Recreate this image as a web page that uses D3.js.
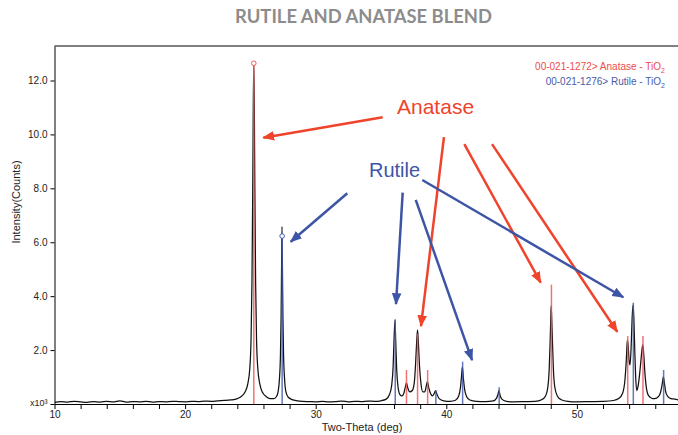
<!DOCTYPE html>
<html>
<head>
<meta charset="utf-8">
<script src="https://cdn.jsdelivr.net/npm/d3@7"></script>
<style>
body { margin: 0; background: #fff; }
</style>
</head>
<body>
<div id="chart"></div>
<script>
var pattern = [
  [10.0,0.06],[10.5,0.09],[11.0,0.07],[11.5,0.10],[12.0,0.08],[12.5,0.06],[13.0,0.09],[13.5,0.07],
  [14.0,0.10],[14.5,0.08],[15.0,0.12],[15.5,0.07],[16.0,0.09],[16.5,0.08],[17.0,0.10],[17.5,0.07],
  [18.0,0.09],[18.5,0.08],[19.0,0.10],[19.5,0.09],[20.0,0.08],[20.5,0.10],[21.0,0.09],[21.5,0.11],
  [22.0,0.10],[22.5,0.12],[23.0,0.13],[23.5,0.15],[24.0,0.20],[24.3,0.28],[24.6,0.45],[24.8,0.75],
  [24.95,1.3],[25.05,2.4],[25.12,4.5],[25.18,8.0],[25.22,11.0],[25.26,12.64],[25.30,11.0],[25.34,8.0],
  [25.40,4.5],[25.47,2.4],[25.57,1.3],[25.72,0.75],[25.9,0.45],[26.2,0.28],[26.5,0.20],[26.8,0.20],
  [27.0,0.28],[27.12,0.45],[27.22,0.9],[27.30,1.8],[27.35,3.2],[27.39,5.2],[27.42,6.58],[27.45,5.2],
  [27.49,3.2],[27.54,1.8],[27.62,0.9],[27.72,0.45],[27.9,0.25],[28.2,0.16],[28.6,0.12],[29.0,0.10],
  [29.5,0.09],[30.0,0.08],[30.5,0.10],[31.0,0.08],[31.5,0.09],[32.0,0.11],[32.5,0.08],[33.0,0.10],
  [33.5,0.09],[34.0,0.11],[34.5,0.10],[35.0,0.12],[35.4,0.18],[35.65,0.35],[35.82,0.7],[35.93,1.4],
  [36.00,2.4],[36.07,3.10],[36.13,2.3],[36.2,1.3],[36.3,0.65],[36.45,0.35],[36.6,0.30],[36.75,0.40],
  [36.85,0.60],[36.95,0.78],[37.05,0.60],[37.2,0.45],[37.4,0.50],[37.55,0.8],[37.65,1.5],[37.73,2.3],
  [37.80,2.75],[37.87,2.2],[37.95,1.4],[38.05,0.8],[38.2,0.45],[38.35,0.45],[38.46,0.65],[38.55,0.83],
  [38.65,0.62],[38.8,0.38],[38.95,0.30],[39.1,0.42],[39.18,0.50],[39.27,0.38],[39.45,0.20],[39.8,0.12],
  [40.3,0.10],[40.7,0.14],[40.95,0.30],[41.08,0.6],[41.16,1.0],[41.23,1.38],[41.30,1.0],[41.40,0.55],
  [41.55,0.28],[41.8,0.15],[42.3,0.10],[43.0,0.09],[43.6,0.12],[43.85,0.22],[43.97,0.38],[44.03,0.50],
  [44.10,0.36],[44.25,0.18],[44.6,0.10],[45.2,0.08],[46.0,0.09],[46.8,0.10],[47.3,0.16],[47.6,0.30],
  [47.78,0.65],[47.88,1.3],[47.95,2.3],[48.00,3.2],[48.03,3.64],[48.07,3.2],[48.13,2.3],[48.2,1.3],
  [48.3,0.65],[48.5,0.30],[48.8,0.16],[49.3,0.10],[50.0,0.08],[51.0,0.09],[52.0,0.10],[52.8,0.13],
  [53.2,0.20],[53.5,0.40],[53.68,0.9],[53.78,1.6],[53.84,2.2],[53.87,2.37],[53.92,2.2],[54.0,1.6],
  [54.07,1.45],[54.16,2.2],[54.23,3.2],[54.30,3.68],[54.36,3.2],[54.43,2.0],[54.50,1.0],[54.58,0.50],
  [54.68,0.65],[54.80,1.1],[54.90,1.6],[54.98,2.0],[55.04,2.19],[55.11,1.9],[55.2,1.2],[55.32,0.6],
  [55.5,0.30],[55.8,0.20],[56.1,0.22],[56.35,0.35],[56.5,0.65],[56.58,0.9],[56.62,1.01],[56.68,0.85],
  [56.78,0.50],[56.95,0.28],[57.2,0.20],[57.5,0.18],[57.8,0.15]
];

// reference stick patterns: [two-theta, intensity]
var anataseSticks = [[25.26,12.64],[36.95,1.26],[37.80,2.6],[38.57,1.26],[48.05,4.43],[53.89,2.52],[55.06,2.52]];
var rutileSticks  = [[27.43,6.23],[36.09,3.14],[39.20,0.50],[41.25,1.57],[44.05,0.62],[54.32,3.76],[56.64,1.26]];

// matched peak markers
var anataseMark = [[25.26,12.64]];
var rutileMark = [[27.43,6.23]];

// annotation arrows: [[from], [to]] in data units
var anataseArrows = [
  [[35.13,10.64],[25.99,9.88]],
  [[39.82,9.90],[38.06,2.89]],
  [[41.38,9.64],[47.23,4.50]],
  [[43.50,9.64],[53.09,2.68]]
];
var rutileArrows = [
  [[32.42,7.82],[28.09,6.02]],
  [[36.66,7.84],[36.15,3.71]],
  [[37.66,7.57],[41.97,1.63]],
  [[38.16,8.31],[53.55,3.96]]
];

var xTicks = [10,12,14,16,18,20,22,24,26,28,30,32,34,36,38,40,42,44,46,48,50,52,54,56,58];
var xLabels = [10,20,30,40,50];
var yTicks = [0,2,4,6,8,10,12];
var yLabels = ["x10³","2.0","4.0","6.0","8.0","10.0","12.0"];

var W = 678, H = 435;
var margin = {top: 46, left: 54.5, bottom: 404};

var red = "#f0432b", blue = "#3e55a6";

var svg = d3.select("#chart").append("svg")
    .attr("width", W).attr("height", H)
    .style("font-family", "'Liberation Sans', Arial, sans-serif");

var x = d3.scaleLinear().domain([10, 58]).range([margin.left, margin.left + 48 * 13.06]);
var y = d3.scaleLinear().domain([0, 13.28]).range([margin.bottom, margin.top]);

// title
svg.append("text")
    .attr("x", 363.5).attr("y", 23.3)
    .attr("text-anchor", "middle")
    .attr("textLength", 257).attr("lengthAdjust", "spacingAndGlyphs")
    .style("font-family", "Lato, 'Open Sans', sans-serif")
    .style("font-weight", "700").style("font-size", "18px")
    .style("fill", "#8c8c8c")
    .text("RUTILE AND ANATASE BLEND");

// frame: top border
svg.append("line")
    .attr("x1", x(10)).attr("x2", W)
    .attr("y1", margin.top).attr("y2", margin.top)
    .attr("stroke", "#000").attr("stroke-width", 1);

// x axis
var xAxis = svg.append("g")
    .attr("transform", "translate(0," + margin.bottom + ")")
    .call(d3.axisBottom(x).tickValues(xTicks).tickSize(5).tickSizeOuter(0)
        .tickFormat(function (d) { return xLabels.indexOf(d) >= 0 ? d : ""; }));
xAxis.selectAll("text").style("font-size", "10px").style("fill", "#222").attr("dy", "0.55em");
xAxis.selectAll("line, path").attr("stroke", "#000");

// y axis
var yAxis = svg.append("g")
    .attr("transform", "translate(" + margin.left + ",0)")
    .call(d3.axisLeft(y).tickValues(yTicks).tickSize(4).tickSizeOuter(0)
        .tickFormat(function (d, i) { return yLabels[i]; }));
yAxis.selectAll("text").style("font-size", "10px").style("fill", "#222");
yAxis.selectAll("line, path").attr("stroke", "#000");
yAxis.selectAll(".tick").filter(function (d) { return d === 0; }).select("text")
    .style("font-size", "9px").attr("dy", "0.2em");

// axis titles
svg.append("text")
    .attr("x", 362).attr("y", 431)
    .attr("text-anchor", "middle")
    .style("font-size", "11px").style("fill", "#222")
    .text("Two-Theta (deg)");
svg.append("text")
    .attr("transform", "translate(20,202) rotate(-90)")
    .attr("text-anchor", "middle")
    .style("font-size", "11px").style("fill", "#222")
    .text("Intensity(Counts)");

// clip the plotting region
svg.append("clipPath").attr("id", "plot")
    .append("rect")
    .attr("x", margin.left).attr("y", margin.top)
    .attr("width", W - margin.left).attr("height", margin.bottom - margin.top);

var plot = svg.append("g").attr("clip-path", "url(#plot)");

// measured pattern
var line = d3.line()
    .x(function (d) { return x(d[0]); })
    .y(function (d) { return y(d[1]); })
    .curve(d3.curveMonotoneX);

plot.append("path")
    .datum(pattern)
    .attr("d", line)
    .attr("fill", "none")
    .attr("stroke", "#111")
    .attr("stroke-width", 1.25);

// reference sticks
plot.selectAll(".anatase").data(anataseSticks).enter().append("line")
    .attr("x1", function (d) { return x(d[0]); }).attr("x2", function (d) { return x(d[0]); })
    .attr("y1", y(0)).attr("y2", function (d) { return y(d[1]); })
    .attr("stroke", "#f25a5a").attr("stroke-width", 1.5).attr("opacity", 0.85);
plot.selectAll(".rutile").data(rutileSticks).enter().append("line")
    .attr("x1", function (d) { return x(d[0]); }).attr("x2", function (d) { return x(d[0]); })
    .attr("y1", y(0)).attr("y2", function (d) { return y(d[1]); })
    .attr("stroke", "#4a60b2").attr("stroke-width", 1.5).attr("opacity", 0.85);

svg.selectAll(".amark").data(anataseMark).enter().append("circle")
    .attr("cx", function (d) { return x(d[0]); }).attr("cy", function (d) { return y(d[1]); })
    .attr("r", 2.3).attr("fill", "#fff").attr("stroke", "#f25a5a").attr("stroke-width", 1);
svg.selectAll(".rmark").data(rutileMark).enter().append("circle")
    .attr("cx", function (d) { return x(d[0]); }).attr("cy", function (d) { return y(d[1]); })
    .attr("r", 2.3).attr("fill", "#fff").attr("stroke", "#4a60b2").attr("stroke-width", 1);

// legend
svg.append("text")
    .attr("x", 661).attr("y", 70).attr("text-anchor", "end")
    .style("font-size", "10px").style("fill", "#f04a4a")
    .text("00-021-1272> Anatase - TiO");
svg.append("text")
    .attr("x", 661).attr("y", 73)
    .style("font-size", "7px").style("fill", "#f04a4a")
    .text("2");
svg.append("text")
    .attr("x", 661).attr("y", 85).attr("text-anchor", "end")
    .style("font-size", "10px").style("fill", "#4a5aa8")
    .text("00-021-1276> Rutile - TiO");
svg.append("text")
    .attr("x", 661).attr("y", 88)
    .style("font-size", "7px").style("fill", "#4a5aa8")
    .text("2");

// arrow heads
var defs = svg.append("defs");
[["headRed", red], ["headBlue", blue]].forEach(function (m) {
    defs.append("marker")
        .attr("id", m[0])
        .attr("viewBox", "0 0 10 8")
        .attr("refX", 9).attr("refY", 4)
        .attr("markerUnits", "userSpaceOnUse")
        .attr("markerWidth", 12).attr("markerHeight", 10)
        .attr("orient", "auto")
        .append("path")
        .attr("d", "M0,0 L10,4 L0,8 Z")
        .attr("fill", m[1]);
});

function drawArrows(data, color, head) {
    svg.selectAll(null).data(data).enter().append("line")
        .attr("x1", function (d) { return x(d[0][0]); })
        .attr("y1", function (d) { return y(d[0][1]); })
        .attr("x2", function (d) { return x(d[1][0]); })
        .attr("y2", function (d) { return y(d[1][1]); })
        .attr("stroke", color).attr("stroke-width", 2.5)
        .attr("marker-end", "url(#" + head + ")");
}
drawArrows(anataseArrows, red, "headRed");
drawArrows(rutileArrows, blue, "headBlue");

svg.append("text")
    .attr("x", 397).attr("y", 114)
    .style("font-size", "21px").style("fill", red)
    .text("Anatase");
svg.append("text")
    .attr("x", 369).attr("y", 177)
    .style("font-size", "20px").style("fill", blue)
    .text("Rutile");
</script>
</body>
</html>
